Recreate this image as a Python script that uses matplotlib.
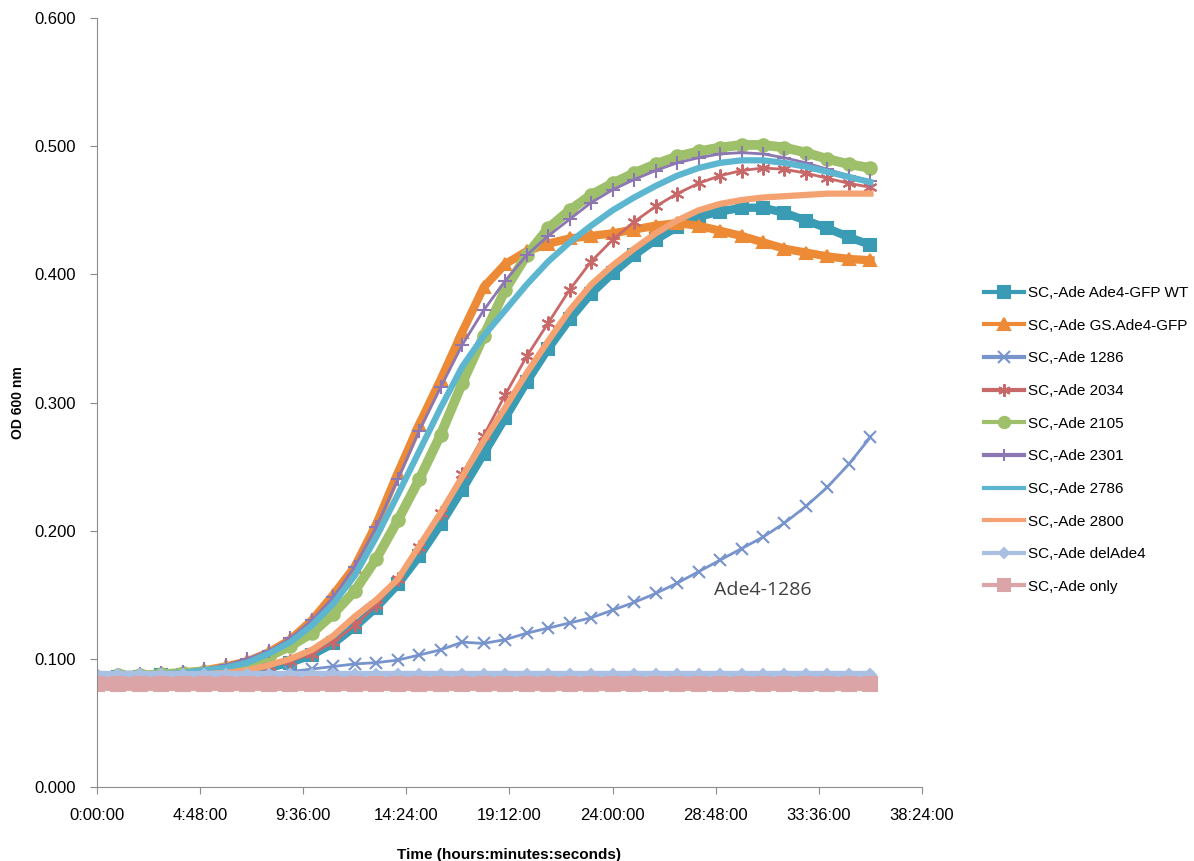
import matplotlib
matplotlib.use("Agg")
import matplotlib.pyplot as plt
from matplotlib.lines import Line2D
from matplotlib.ticker import FuncFormatter, MultipleLocator

# time points (hours)
hours = list(range(0, 37))

# OD600 readings per strain (hourly)
wt = [0.085, 0.086, 0.086, 0.087, 0.087, 0.088, 0.089, 0.090, 0.093, 0.097,
      0.103, 0.112, 0.125, 0.140, 0.158, 0.180, 0.205, 0.232, 0.260, 0.288,
      0.316, 0.342, 0.365, 0.385, 0.401, 0.415, 0.427, 0.437, 0.445, 0.449,
      0.452, 0.452, 0.448, 0.442, 0.436, 0.429, 0.423]
gs = [0.086, 0.087, 0.087, 0.088, 0.089, 0.091, 0.094, 0.098, 0.105, 0.115,
      0.130, 0.150, 0.172, 0.205, 0.245, 0.283, 0.318, 0.355, 0.390, 0.408,
      0.418, 0.424, 0.428, 0.430, 0.432, 0.435, 0.438, 0.440, 0.438, 0.434,
      0.430, 0.425, 0.420, 0.417, 0.414, 0.412, 0.411]
s1286 = [0.085, 0.085, 0.085, 0.086, 0.086, 0.086, 0.087, 0.087, 0.088, 0.090,
         0.092, 0.094, 0.096, 0.097, 0.099, 0.103, 0.107, 0.113, 0.112, 0.115,
         0.120, 0.124, 0.128, 0.132, 0.138, 0.144, 0.151, 0.159, 0.168, 0.177,
         0.186, 0.195, 0.206, 0.219, 0.234, 0.252, 0.273]
s2034 = [0.085, 0.086, 0.086, 0.087, 0.087, 0.088, 0.089, 0.091, 0.094, 0.098,
         0.104, 0.113, 0.126, 0.142, 0.162, 0.187, 0.214, 0.244, 0.274, 0.306,
         0.336, 0.362, 0.388, 0.410, 0.427, 0.441, 0.453, 0.463, 0.471, 0.477,
         0.481, 0.483, 0.482, 0.479, 0.475, 0.471, 0.468]
s2105 = [0.086, 0.087, 0.087, 0.088, 0.089, 0.090, 0.092, 0.096, 0.102, 0.110,
         0.120, 0.135, 0.153, 0.178, 0.208, 0.240, 0.275, 0.315, 0.352, 0.388,
         0.415, 0.436, 0.450, 0.462, 0.471, 0.479, 0.486, 0.492, 0.496, 0.499,
         0.501, 0.501, 0.499, 0.495, 0.490, 0.486, 0.483]
s2301 = [0.086, 0.087, 0.088, 0.089, 0.090, 0.092, 0.095, 0.100, 0.106, 0.116,
         0.130, 0.148, 0.172, 0.203, 0.240, 0.278, 0.312, 0.345, 0.372, 0.395,
         0.415, 0.430, 0.443, 0.456, 0.466, 0.474, 0.481, 0.487, 0.491, 0.494,
         0.495, 0.494, 0.491, 0.487, 0.482, 0.477, 0.473]
s2786 = [0.086, 0.087, 0.087, 0.088, 0.089, 0.091, 0.093, 0.097, 0.104, 0.113,
         0.126, 0.143, 0.165, 0.195, 0.228, 0.262, 0.296, 0.328, 0.352, 0.372,
         0.392, 0.410, 0.425, 0.438, 0.450, 0.460, 0.469, 0.477, 0.483, 0.487,
         0.489, 0.489, 0.487, 0.484, 0.480, 0.476, 0.472]
s2800 = [0.085, 0.086, 0.086, 0.087, 0.087, 0.088, 0.089, 0.091, 0.095, 0.100,
         0.107, 0.118, 0.133, 0.146, 0.162, 0.188, 0.214, 0.242, 0.270, 0.296,
         0.323, 0.348, 0.372, 0.392, 0.407, 0.420, 0.432, 0.442, 0.450, 0.455,
         0.458, 0.460, 0.461, 0.462, 0.463, 0.463, 0.463]
del_ade4 = [0.087, 0.087, 0.087, 0.087, 0.087, 0.087, 0.087, 0.087, 0.087, 0.087,
            0.087, 0.087, 0.087, 0.087, 0.087, 0.087, 0.087, 0.087, 0.087, 0.087,
            0.087, 0.087, 0.087, 0.087, 0.087, 0.087, 0.087, 0.087, 0.087, 0.087,
            0.087, 0.087, 0.087, 0.087, 0.087, 0.087, 0.087]
ade_only = [0.080, 0.080, 0.080, 0.080, 0.080, 0.080, 0.080, 0.080, 0.080, 0.080,
            0.080, 0.080, 0.080, 0.080, 0.080, 0.080, 0.080, 0.080, 0.080, 0.080,
            0.080, 0.080, 0.080, 0.080, 0.080, 0.080, 0.080, 0.080, 0.080, 0.080,
            0.080, 0.080, 0.080, 0.080, 0.080, 0.080, 0.080]

labels = ["SC,-Ade Ade4-GFP WT", "SC,-Ade GS.Ade4-GFP", "SC,-Ade 1286",
          "SC,-Ade 2034", "SC,-Ade 2105", "SC,-Ade 2301", "SC,-Ade 2786",
          "SC,-Ade 2800", "SC,-Ade delAde4", "SC,-Ade only"]
series = [wt, gs, s1286, s2034, s2105, s2301, s2786, s2800, del_ade4, ade_only]

# colour, marker, marker size, line width
styles = [
    ("#3A9BB4", "s", 9, 6),
    ("#EC8A35", "^", 9, 6),
    ("#7894CC", "x", 9, 2),
    ("#C96868", (6, 2, 0), 10, 2),
    ("#9EC06A", "o", 9, 7),
    ("#8D77B3", "+", 10, 2),
    ("#5DB6D0", None, 0, 4.5),
    ("#F5A272", None, 0, 4.5),
    ("#A9C0E2", "D", 6, 6),
    ("#DBA4A6", "s", 10, 10),
]

plt.rcParams['font.family'] = ['Liberation Sans', 'DejaVu Sans']

fig = plt.figure(figsize=(11.94, 8.61), dpi=100)
ax = fig.add_axes([0.0812, 0.086, 0.691, 0.893])

for y, lab, (col, mk, ms, lw) in zip(series, labels, styles):
    ax.plot(hours, y, color=col, lw=lw, marker=mk, ms=ms, mew=1.5,
            solid_joinstyle="round", label=lab)

ax.set_xlim(0, 38.4)
ax.set_ylim(0, 0.6)
ax.xaxis.set_major_locator(MultipleLocator(4.8))
ax.yaxis.set_major_locator(MultipleLocator(0.1))


def hms(x, pos):
    total = int(round(x * 60))
    return f"{total // 60}:{total % 60:02d}:00"


ax.xaxis.set_major_formatter(FuncFormatter(hms))
ax.yaxis.set_major_formatter(FuncFormatter(lambda v, p: f"{v:.3f}"))

for s in ["top", "right"]:
    ax.spines[s].set_visible(False)
for s in ["left", "bottom"]:
    ax.spines[s].set_color("#8C8C8C")
ax.tick_params(direction="out", length=5, color="#8C8C8C", labelsize=12, pad=10)

ax.set_xlabel("Time (hours:minutes:seconds)", fontsize=11, fontweight="bold", labelpad=18)
ax.set_ylabel("OD 600 nm", fontsize=10, fontweight="bold", labelpad=7)

ax.text(28.7, 0.150, "Ade4-1286", fontsize=14, color="#404040",
        family=["Open Sans", "DejaVu Sans"])

# legend handles with thin lines so the markers show
handles = []
for lab, (col, mk, ms, lw) in zip(labels, styles):
    handles.append(Line2D([], [], color=col, lw=3, marker=mk, ms=ms * 0.9, mew=1.5))
fig.legend(handles, labels, loc="center left", bbox_to_anchor=(0.813, 0.489),
           frameon=False, fontsize=11, handlelength=2.6, labelspacing=1.22,
           handletextpad=0.25)

fig.savefig("out.png", dpi=100)
